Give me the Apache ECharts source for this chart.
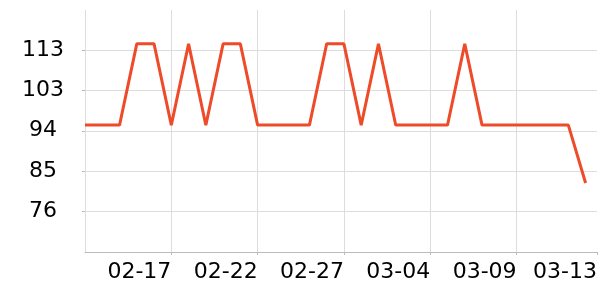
<!DOCTYPE html>
<html>
<head>
<meta charset="utf-8">
<script src="https://cdn.jsdelivr.net/npm/echarts@6/dist/echarts.min.js"></script>
<style>html,body{margin:0;padding:0;background:#fff}#c{width:600px;height:300px}</style>
</head>
<body>
<div id="c"></div>
<script>
const dates = ['02-12','02-13','02-14','02-15','02-16','02-17','02-18','02-19','02-20','02-21',
  '02-22','02-23','02-24','02-25','02-26','02-27','02-28','03-01','03-02','03-03',
  '03-04','03-05','03-06','03-07','03-08','03-09','03-10','03-11','03-12','03-13'];
const values = [96,96,96,114.5,114.5,96,114.5,96,114.5,114.5,
  96,96,96,96,114.5,114.5,96,114.5,96,96,
  96,96,114.5,96,96,96,96,96,96,82.8];

const chart = echarts.init(document.getElementById('c'), null, {renderer:'canvas'});
const font = 'DejaVu Sans';
chart.setOption({
  animation: false,
  grid: {left: 85, right: 1, top: 10, bottom: 48},
  xAxis: {
    type: 'value', min: 0, max: 29.66, interval: 5,
    axisLine: {show: true, lineStyle: {color: '#bbbbbb', width: 1}},
    axisTick: {show: true, length: 3, lineStyle: {color: '#bbbbbb'}},
    splitLine: {show: true, showMaxLine: false, lineStyle: {color: '#dddddd', width: 1}},
    axisLabel: {
      show: true, showMinLabel: false, showMaxLabel: true, align: 'right', margin: 9,
      color: '#000', fontFamily: font, fontSize: 22,
      formatter: v => dates[Math.min(Math.round(v), dates.length - 1)]
    }
  },
  yAxis: {
    type: 'value', min: 67.1, max: 122.2, interval: 9.2,
    axisLine: {show: false},
    axisTick: {show: true, length: 3, lineStyle: {color: '#bbbbbb'}},
    splitLine: {show: true, showMinLine: false, showMaxLine: false, lineStyle: {color: '#dddddd', width: 1}},
    axisLabel: {
      showMinLabel: false, showMaxLabel: false, align: 'center', margin: 42,
      color: '#000', fontFamily: font, fontSize: 22,
      formatter: v => String(Math.floor(v + 1e-6))
    }
  },
  series: [{
    type: 'line',
    data: values.map((v, i) => [i, v]),
    showSymbol: false, symbol: 'none',
    lineStyle: {color: '#ee4b2b', width: 3},
    itemStyle: {color: '#ee4b2b'}
  }]
});
</script>
</body>
</html>
